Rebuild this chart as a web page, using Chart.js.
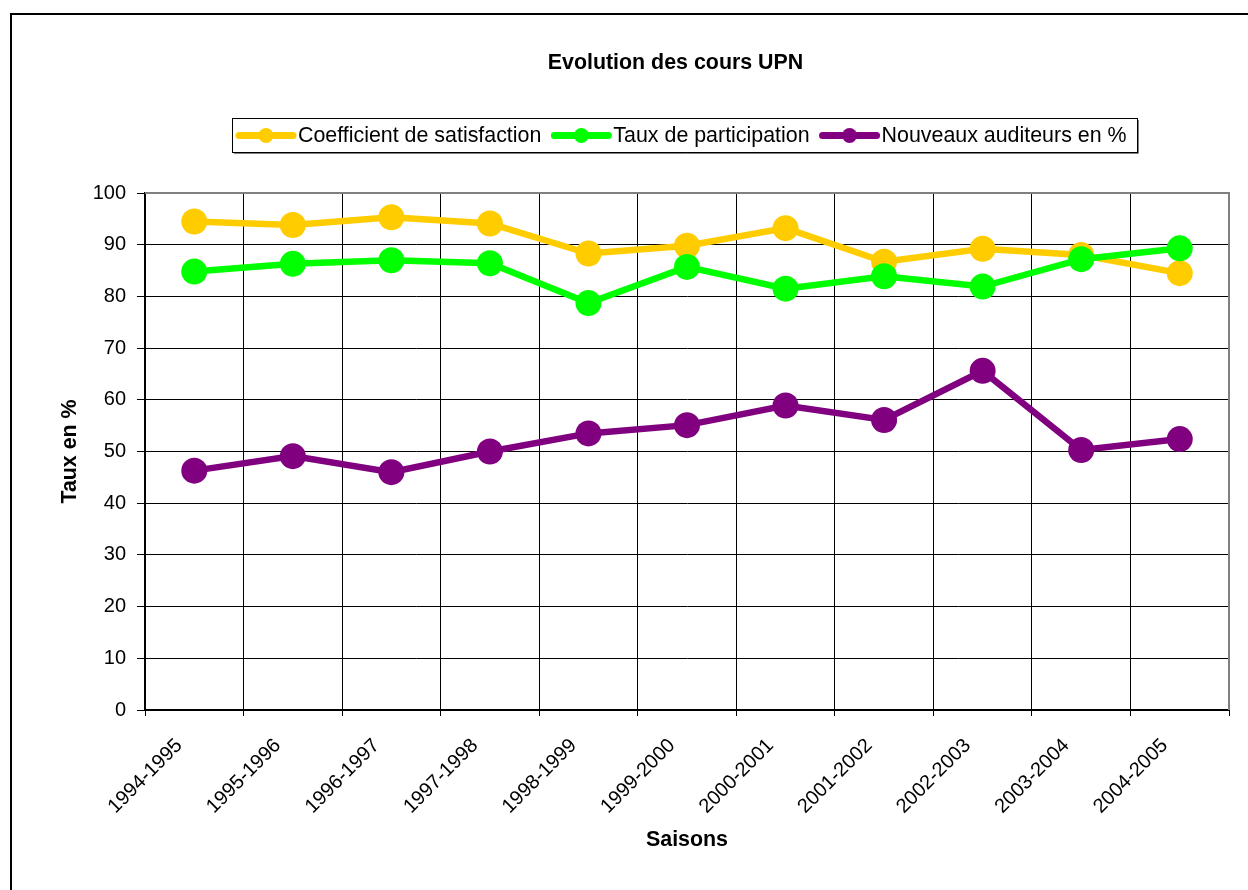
<!DOCTYPE html>
<html>
<head>
<meta charset="utf-8">
<title>Evolution des cours UPN</title>
<script src="https://cdn.jsdelivr.net/npm/chart.js@4.4.1/dist/chart.umd.min.js"></script>
<style>
  html, body { margin: 0; padding: 0; background: #fff; }
  canvas { display: block; }
</style>
</head>
<body>
<canvas id="chart" width="1248" height="890"></canvas>
<script>
// saisons (axe x)
const saisons = ['1994-1995', '1995-1996', '1996-1997', '1997-1998', '1998-1999', '1999-2000',
                 '2000-2001', '2001-2002', '2002-2003', '2003-2004', '2004-2005'];

// valeurs
const satisfaction  = [94.5, 93.8, 95.3, 94.1, 88.3, 89.8, 93.2, 86.7, 89.2, 88.0, 84.5];
const participation = [84.8, 86.3, 87.0, 86.4, 78.7, 85.7, 81.5, 83.9, 81.9, 87.2, 89.3];
const nouveaux      = [46.3, 49.1, 46.0, 50.0, 53.5, 55.1, 58.9, 56.1, 65.6, 50.3, 52.4];

const FONT = '"Liberation Sans", Arial, sans-serif';
Chart.defaults.font.family = FONT;
Chart.defaults.color = '#000';

// cadre noir + titre
const frame = {
  id: 'frame',
  beforeDraw(chart) {
    const ctx = chart.ctx;
    ctx.save();
    ctx.fillStyle = '#fff';
    ctx.fillRect(0, 0, chart.width, chart.height);
    ctx.strokeStyle = '#000';
    ctx.lineWidth = 2;
    ctx.strokeRect(11, 14, 1400, 1000);
    ctx.fillStyle = '#000';
    ctx.font = 'bold 21.4px ' + FONT;
    ctx.textAlign = 'center';
    ctx.textBaseline = 'middle';
    ctx.fillText('Evolution des cours UPN', 675.5, 63);
    ctx.restore();
  },
  beforeDatasetsDraw(chart) {
    // bord gris haut / droite de la zone de tracé
    const {ctx, chartArea: a} = chart;
    ctx.save();
    ctx.strokeStyle = '#808080';
    ctx.lineWidth = 2;
    ctx.beginPath();
    ctx.moveTo(a.left, a.top);
    ctx.lineTo(a.right, a.top);
    ctx.lineTo(a.right, a.bottom);
    ctx.stroke();
    ctx.restore();
  }
};

// légende encadrée à la Excel
const legendBox = {
  id: 'legendBox',
  afterDraw(chart) {
    const ctx = chart.ctx;
    ctx.save();
    ctx.font = '21.4px ' + FONT;
    const markW = 60, gapText = 2, gapItem = 10, padL = 4, padR = 10;
    const items = chart.data.datasets.map(ds => ({ds, w: ctx.measureText(ds.label).width}));
    let total = padL + padR;
    items.forEach((it, i) => { total += markW + gapText + it.w + (i ? gapItem : 0); });
    const top = 118, h = 34;
    const left = Math.round(684 - total / 2);
    // ombre légère
    ctx.strokeStyle = '#808080';
    ctx.lineWidth = 1;
    ctx.beginPath();
    ctx.moveTo(left + 1.5 + Math.round(total), top + 2);
    ctx.lineTo(left + 1.5 + Math.round(total), top + h + 1.5);
    ctx.lineTo(left + 2, top + h + 1.5);
    ctx.stroke();
    ctx.strokeStyle = '#000';
    ctx.strokeRect(left + 0.5, top + 0.5, Math.round(total), h);
    let x = left + padL;
    const y = top + h / 2 + 0.5;
    items.forEach((it, i) => {
      if (i) x += gapItem;
      const c = it.ds.borderColor;
      ctx.strokeStyle = c;
      ctx.lineWidth = 7;
      ctx.lineCap = 'round';
      ctx.beginPath();
      ctx.moveTo(x + 3, y);
      ctx.lineTo(x + markW - 3, y);
      ctx.stroke();
      ctx.fillStyle = c;
      ctx.beginPath();
      ctx.arc(x + markW / 2, y, 7.5, 0, Math.PI * 2);
      ctx.fill();
      x += markW + gapText;
      ctx.fillStyle = '#000';
      ctx.textAlign = 'left';
      ctx.textBaseline = 'middle';
      ctx.fillText(it.ds.label, x, y + 1);
      x += it.w;
    });
    ctx.restore();
  }
};

const serie = (label, data, color, order) => ({
  label: label,
  data: data,
  borderColor: color,
  backgroundColor: color,
  borderWidth: 6.5,
  pointRadius: 13,
  pointHoverRadius: 13,
  pointBorderWidth: 0,
  pointBackgroundColor: color,
  tension: 0,
  order: order
});

new Chart(document.getElementById('chart'), {
  type: 'line',
  data: {
    labels: saisons,
    datasets: [
      serie('Coefficient de satisfaction', satisfaction, '#FFCC00', 3),
      serie('Taux de participation', participation, '#00FF00', 2),
      serie('Nouveaux auditeurs en %', nouveaux, '#800080', 1)
    ]
  },
  options: {
    responsive: false,
    animation: false,
    devicePixelRatio: 1,
    layout: { padding: { left: 0, right: 19, top: 193, bottom: 0 } },
    plugins: {
      legend: { display: false },
      title: { display: false },
      tooltip: { enabled: false }
    },
    scales: {
      x: {
        offset: true,
        grid: { offset: true, color: '#000', lineWidth: 1, tickLength: 6 },
        border: { color: '#000', width: 2 },
        ticks: {
          autoSkip: false, minRotation: 45, maxRotation: 45,
          font: { size: 20 }, color: '#000', padding: 18, labelOffset: -15
        },
        title: {
          display: true, text: 'Saisons', color: '#000',
          font: { size: 21.4, weight: 'bold' }, padding: { top: 0, bottom: 37 }
        },
        afterFit(scale) { scale.height = 180; }
      },
      y: {
        min: 0, max: 100,
        grid: { color: '#000', lineWidth: 1, tickLength: 8 },
        border: { color: '#000', width: 2 },
        ticks: { stepSize: 10, font: { size: 20 }, color: '#000', padding: 11 },
        title: {
          display: true, text: 'Taux en %', color: '#000',
          font: { size: 21.4, weight: 'bold' }, padding: { top: 57, bottom: 0 }
        },
        afterFit(scale) { scale.width = 145; }
      }
    }
  },
  plugins: [frame, legendBox]
});
</script>
</body>
</html>
